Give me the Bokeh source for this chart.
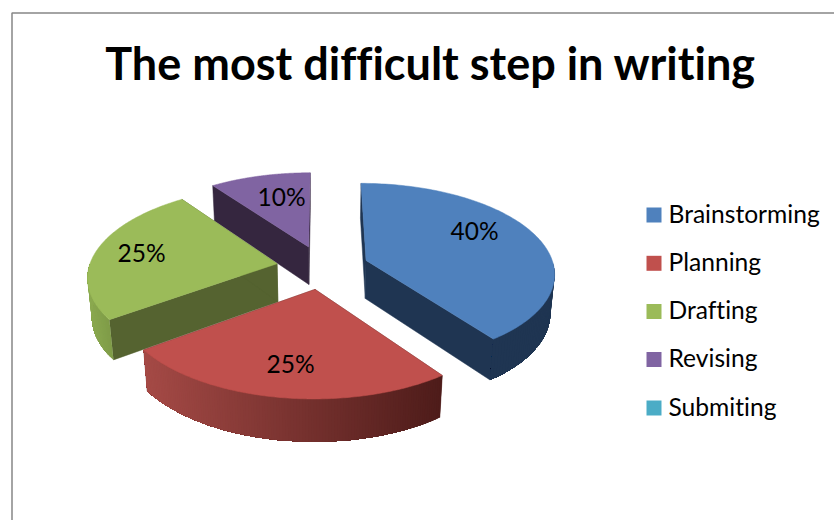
import numpy as np
from bokeh.core.properties import value
from bokeh.embed import file_html
from bokeh.models import Range1d
from bokeh.plotting import figure
from bokeh.resources import INLINE

# Chart content
title = "The most difficult step in writing"
categories = ["Brainstorming", "Planning", "Drafting", "Revising", "Submiting"]
shares = [40, 25, 25, 10, 0]

# Slice colours: top face, radial walls, rim at the start and the end of the sweep
top_colors = ["#4f81bd", "#c0504d", "#9bbb59", "#8064a2", "#4bacc6"]
wall_colors = ["#1f3552", "#4f1d1b", "#556330", "#35263f", "#1f4f5c"]
rim_from = ["#1f3552", "#4e1c1a", "#7f9c48", "#35263f", "#1f4f5c"]
rim_to = ["#1f3552", "#a54a46", "#8aa84f", "#35263f", "#1f4f5c"]

# Painter's order, back to front
draw_order = [3, 2, 1, 0]

# Perspective projection of the pie plane onto the page
CX, CY = 322.0, 266.6
SCALE_X, SCALE_Y = 188.0, 88.8
PERSPECTIVE = 0.131
DEPTH, DEPTH_W = 39.0, 0.018
EXPLODE = 0.246

FONT = "Lato"


def project(u, v, lower=False):
    u, v = np.asarray(u, float), np.asarray(v, float)
    w = 1 + PERSPECTIVE * v + (DEPTH_W if lower else 0)
    y = SCALE_Y * v - (DEPTH if lower else 0)
    return CX + SCALE_X * u / w, CY - y / w


def blend(c0, c1, t):
    a = [int(c0[i:i + 2], 16) for i in (1, 3, 5)]
    b = [int(c1[i:i + 2], 16) for i in (1, 3, 5)]
    return "#" + "".join(f"{round(p + (q - p) * t):02x}" for p, q in zip(a, b))


p = figure(width=834, height=520, x_range=Range1d(0, 834), y_range=Range1d(520, 0),
           output_backend="svg", toolbar_location=None, min_border=0,
           x_axis_location=None, y_axis_location=None, outline_line_color=None,
           stylesheets=["text { font-variant-ligatures: none; text-rendering: optimizeSpeed; }",
                        ":host { font-variant-ligatures: none; text-rendering: optimizeSpeed; }"])
p.grid.visible = False
p.background_fill_color = "white"

# Chart area border, running off the right and bottom of the page
p.line([11.5, 11.5, 834], [520, 12.5, 12.5], line_color="#868686", line_width=1.5)

total = sum(shares)
stops = np.cumsum([0] + shares) / total * 2 * np.pi

for i in draw_order:
    t0, t1 = stops[i], stops[i + 1]
    mid = (t0 + t1) / 2
    ou, ov = EXPLODE * np.sin(mid), EXPLODE * np.cos(mid)
    theta = np.linspace(t0, t1, 121)
    u = ou + np.sin(theta)
    v = ov + np.cos(theta)

    # Radial walls
    for edge in (t0, t1):
        eu, ev = ou + np.sin(edge), ov + np.cos(edge)
        tx, ty = project([ou, eu], [ov, ev])
        bx, by = project([ou, eu], [ov, ev], lower=True)
        p.patch(list(tx) + list(bx[::-1]), list(ty) + list(by[::-1]),
                fill_color=wall_colors[i], line_color=wall_colors[i], line_width=0.5)

    # Rim, only where it faces the viewer; each band runs under the next
    # one so that no seams show, and the shade follows the page x position
    keep = np.where(np.cos(theta) < 0)[0]
    if len(keep) > 1:
        tx, ty = project(u[keep], v[keep])
        bx, by = project(u[keep], v[keep], lower=True)
        span = tx[-1] - tx[0]
        for k in range(len(keep) - 1):
            band = blend(rim_from[i], rim_to[i], (tx[k] - tx[0]) / span)
            p.patch(list(tx[k:]) + list(bx[k:][::-1]), list(ty[k:]) + list(by[k:][::-1]),
                    fill_color=band, line_color=None)

    # Top face
    fx, fy = project(np.r_[ou, u], np.r_[ov, v])
    p.patch(fx, fy, fill_color=top_colors[i], line_color=top_colors[i], line_width=0.5)

# Percentage labels
label_x = [474, 290, 141, 281]
label_y = [230, 363, 252, 196]
label_text = [f"{s}%" for s in shares if s > 0]
p.text(label_x, label_y, text=label_text, text_align="center", text_baseline="middle",
       text_font=value(FONT), text_font_size="24.5px", text_color="#000000")

# Title
p.text([429.5], [62], text=[title], text_align="center", text_baseline="middle",
       text_font=value(FONT), text_font_style="bold", text_font_size="45px", text_color="#000000")

# Legend
legend_y = [214.5, 262.8, 311, 359, 407.5]
legend_text_y = [y - 2 for y in legend_y]
p.rect([653.5] * 5, legend_y, width=15, height=15, fill_color=top_colors, line_color=None)
p.text([668] * 5, legend_text_y, text=categories, text_align="left", text_baseline="middle",
       text_font=value(FONT), text_font_size="24.6px", text_color="#000000")

open("out.html", "w").write(file_html(p, INLINE))
